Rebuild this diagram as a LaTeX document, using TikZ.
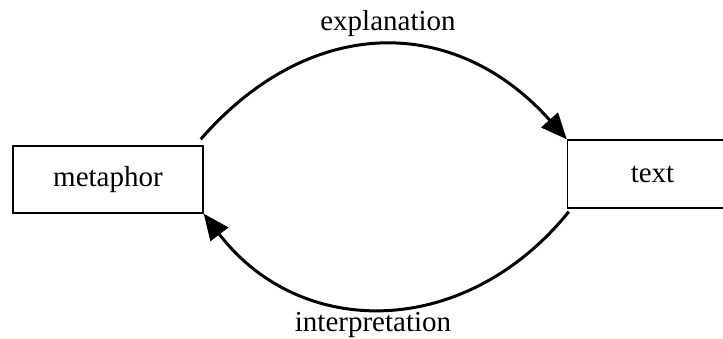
\documentclass[tikz,border=0pt]{standalone}
\usepackage{fontspec}
\setmainfont{Liberation Serif}
\usetikzlibrary{positioning,arrows.meta}

\begin{document}
\begin{tikzpicture}[x=1pt,y=-1pt]  % <-- pixel units, y down

\tikzset{
termbox/.style={
draw=black,
line width=1.4pt,
minimum width=190pt,
minimum height=67pt,
inner sep=0pt,
font=\fontsize{29}{34}\selectfont
},
flowlabel/.style={
align=center,
font=\fontsize{29}{34}\selectfont
},
flowarrow/.style={
line width=3pt,
-{Triangle[length=26pt,width=22pt]}
}
}

\useasboundingbox (0,0) rectangle (723,339);

%----------------------------------
% BOXES
%----------------------------------

\node[termbox] (metaphor) at (108,179.5) {metaphor};
\node[termbox,minimum width=170pt,minimum height=68pt] (text) at (652.5,174) {text};

%----------------------------------
% LABELS
%----------------------------------

\node[flowlabel] (explanation) at (388,24) {explanation};
\node[flowlabel] (interpretation) at (373,325) {interpretation};

%----------------------------------
% ARROWS
%----------------------------------

\draw[flowarrow] ([shift={(-3,-6)}]metaphor.north east)
  .. controls (310,14) and (455,14) .. (text.north west);
\draw[flowarrow] ([shift={(2,3)}]text.south west)
  .. controls (465,340) and (300,340) .. (metaphor.south east);

\end{tikzpicture}
\end{document}
